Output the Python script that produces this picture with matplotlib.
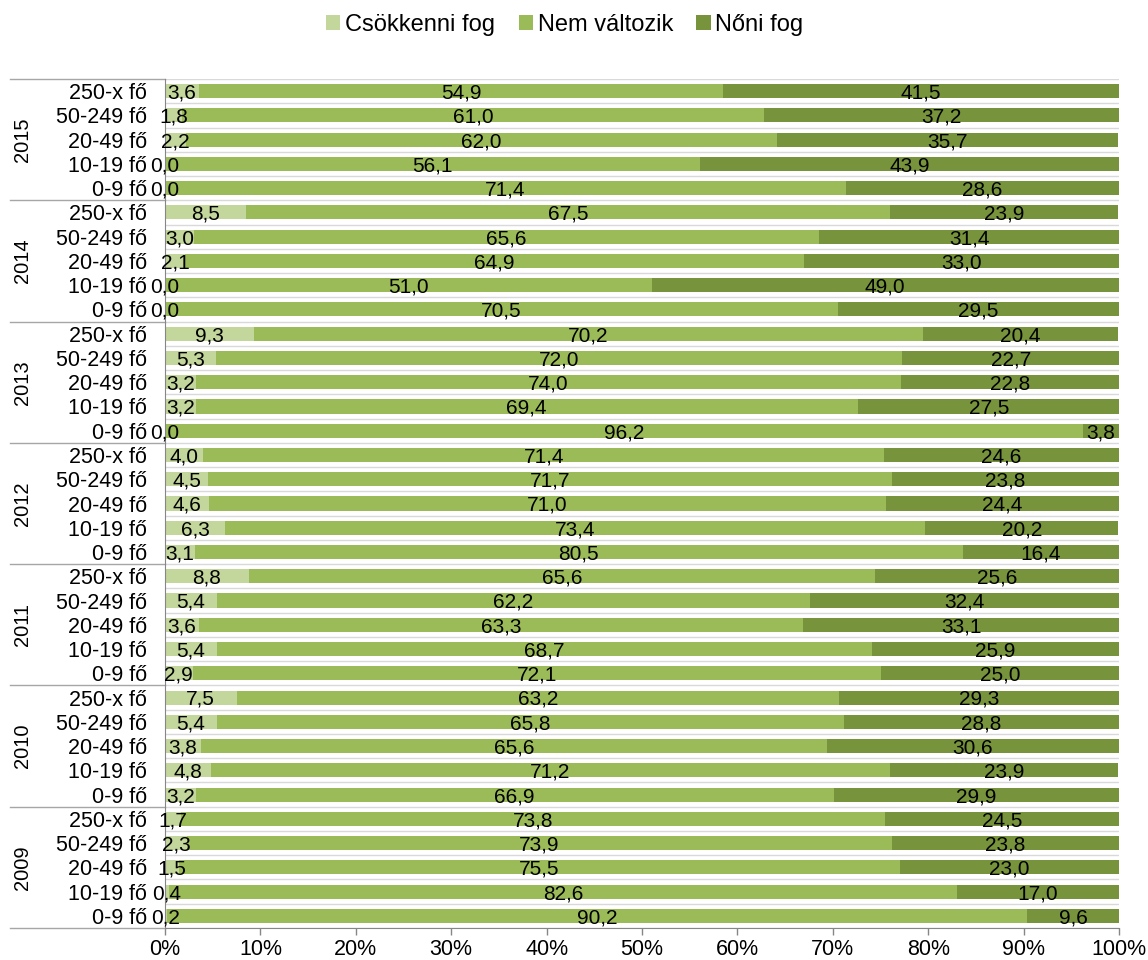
import matplotlib
matplotlib.use("Agg")
import matplotlib.pyplot as plt
import matplotlib.transforms as mtransforms
from matplotlib.patches import Patch

plt.rcParams['font.family'] = ['Liberation Sans', 'DejaVu Sans']

years = ["2015", "2014", "2013", "2012", "2011", "2010", "2009"]
sizes = ["250-x fő", "50-249 fő", "20-49 fő", "10-19 fő", "0-9 fő"]
series_names = ["Csökkenni fog", "Nem változik", "Nőni fog"]

csokkenni = [3.6, 1.8, 2.2, 0.0, 0.0,
             8.5, 3.0, 2.1, 0.0, 0.0,
             9.3, 5.3, 3.2, 3.2, 0.0,
             4.0, 4.5, 4.6, 6.3, 3.1,
             8.8, 5.4, 3.6, 5.4, 2.9,
             7.5, 5.4, 3.8, 4.8, 3.2,
             1.7, 2.3, 1.5, 0.4, 0.2]
nem_valtozik = [54.9, 61.0, 62.0, 56.1, 71.4,
                67.5, 65.6, 64.9, 51.0, 70.5,
                70.2, 72.0, 74.0, 69.4, 96.2,
                71.4, 71.7, 71.0, 73.4, 80.5,
                65.6, 62.2, 63.3, 68.7, 72.1,
                63.2, 65.8, 65.6, 71.2, 66.9,
                73.8, 73.9, 75.5, 82.6, 90.2]
noni = [41.5, 37.2, 35.7, 43.9, 28.6,
        23.9, 31.4, 33.0, 49.0, 29.5,
        20.4, 22.7, 22.8, 27.5, 3.8,
        24.6, 23.8, 24.4, 20.2, 16.4,
        25.6, 32.4, 33.1, 25.9, 25.0,
        29.3, 28.8, 30.6, 23.9, 29.9,
        24.5, 23.8, 23.0, 17.0, 9.6]

colors = ["#C3D69B", "#9BBB59", "#77933C"]

fig = plt.figure(figsize=(11.48, 9.6), dpi=100)
ax = fig.add_axes([165/1148, 1-928/960, (1119-165)/1148, (928-79)/960])

n = len(csokkenni)
ypos = list(range(n))
labels = [s for _ in years for s in sizes]

left = [0.0]*n
for vals, col in zip([csokkenni, nem_valtozik, noni], colors):
    ax.barh(ypos, vals, left=left, height=0.58, color=col, edgecolor='none', zorder=2)
    for i in range(n):
        ax.text(left[i] + vals[i]/2, ypos[i] + 0.08, f"{vals[i]:.1f}".replace('.', ','),
                ha='center', va='center', fontsize=15, color='black', zorder=4)
    left = [l + v for l, v in zip(left, vals)]

ax.set_xlim(0, 100)
ax.set_ylim(n - 0.5, -0.5)

# horizontal gridlines at category boundaries
for b in range(n + 1):
    ax.axhline(b - 0.5, color="#D9D9D9", lw=1.0, zorder=1)

ax.set_yticks(ypos)
ax.set_yticklabels(labels, fontsize=15.5)
ax.tick_params(axis='y', length=0, pad=13)
ax.set_xticks(range(0, 101, 10))
ax.set_xticklabels([f"{v}%" for v in range(0, 101, 10)], fontsize=15.5)
ax.tick_params(axis='x', length=5, width=1, color="#868686", pad=3)

for s in ['top', 'right']:
    ax.spines[s].set_visible(False)
ax.spines['left'].set_color("#868686")
ax.spines['bottom'].set_color("#868686")

# year separators and labels
trans = mtransforms.blended_transform_factory(ax.transAxes, ax.transData)
x0 = (10 - 165) / (1119 - 165)
for g in range(len(years) + 1):
    yb = g * 5 - 0.5
    ax.plot([x0, 0], [yb, yb], transform=trans, color="#A6A6A6", lw=1.0, clip_on=False)
for g, yr in enumerate(years):
    ax.text((22 - 165) / (1119 - 165), g * 5 + 2, yr, transform=trans, rotation=90,
            ha='center', va='center', fontsize=14.5)

handles = [Patch(facecolor=c, edgecolor='none') for c in colors]
fig.legend(handles, series_names, loc='upper center', bbox_to_anchor=(0.492, 1.008),
           ncol=3, frameon=False, fontsize=17, handlelength=0.6, handleheight=0.6,
           handletextpad=0.2, columnspacing=1.0)

fig.savefig("out.png", dpi=100)
